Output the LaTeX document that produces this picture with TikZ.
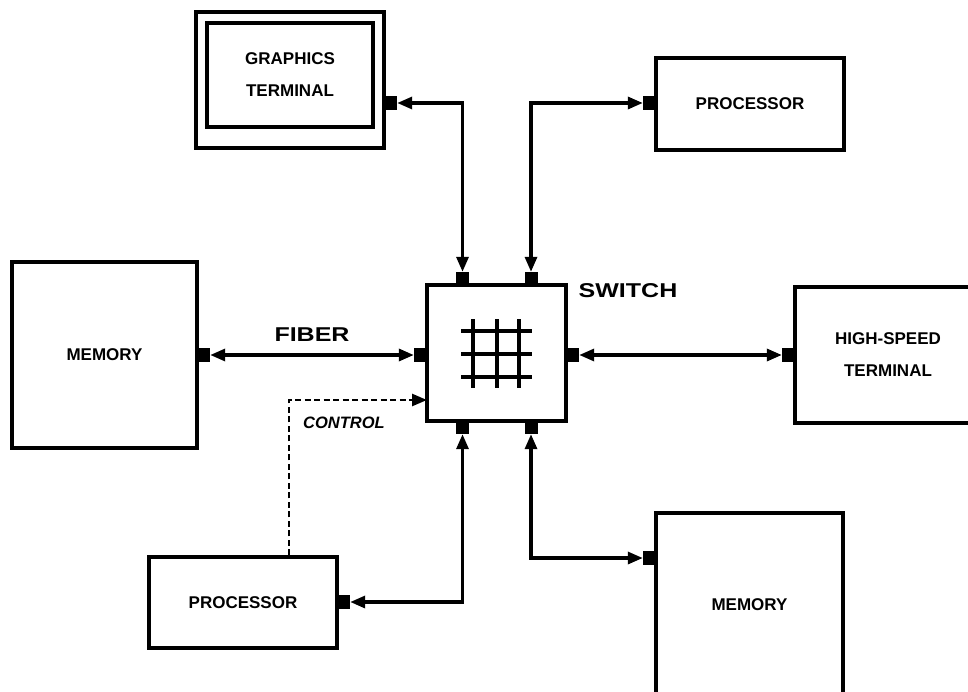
\documentclass[tikz,border=0pt]{standalone}
\usepackage{fontspec}
\setmainfont{Liberation Sans}
\newfontfamily\widesans[FakeStretch=1.25]{Liberation Sans}
\usetikzlibrary{arrows.meta}

\begin{document}
\begin{tikzpicture}[x=1pt, y=-1pt,
  unit/.style={draw, line width=3.2pt, inner sep=0pt, align=center,
    font=\fontsize{17}{32}\selectfont\bfseries},
  porth/.style={fill, inner sep=0pt, minimum width=13pt, minimum height=14pt},
  portv/.style={fill, inner sep=0pt, minimum width=13pt, minimum height=13pt},
  link/.style={line width=3.2pt,
    {Triangle[length=15pt,width=12pt]}-{Triangle[length=15pt,width=12pt]}},
  ctrl/.style={line width=2.6pt, dash pattern=on 6pt off 3.5pt,
    -{Triangle[length=15pt,width=12pt]}},
  tag/.style={font=\widesans\fontsize{20}{24}\selectfont\bfseries}]
\useasboundingbox (0,0) rectangle (968,692);
\clip (0,0) rectangle (968,692);
\node[unit, minimum width=188pt, minimum height=136pt] (gtframe) at (290,80) {};
\node[unit, minimum width=166pt, minimum height=104pt] (gterm) at (290,75) {GRAPHICS\\TERMINAL};
\node[unit, minimum width=188pt, minimum height=92pt] (proc1) at (750,104) {PROCESSOR};
\node[unit, minimum width=185pt, minimum height=186pt] (mem1) at (104.5,355) {MEMORY};
\node[unit, minimum width=139pt, minimum height=136pt] (sw) at (496.5,353) {};
\node[unit, minimum width=186pt, minimum height=136pt] (hst) at (888,355) {HIGH-SPEED\\TERMINAL};
\node[unit, minimum width=188pt, minimum height=91pt] (proc2) at (243,602.5) {PROCESSOR};
\node[unit, minimum width=187pt, minimum height=184pt] (mem2) at (749.5,605) {MEMORY};
\foreach \gx in {473,497,519}
  \draw[line width=3.2pt] (\gx,319) -- (\gx,388);
\foreach \gy in {331,354,377}
  \draw[line width=3.2pt] (461,\gy) -- (532,\gy);
\node[porth] (gtp) at (390.5,103) {};
\node[porth] (proc1p) at (649.5,103) {};
\node[porth] (mem1p) at (203.5,355) {};
\node[porth] (swp1) at (420.5,355) {};
\node[porth] (swp2) at (572.5,355) {};
\node[porth] (hstp) at (788.5,355) {};
\node[portv] (swt1) at (462.5,278.5) {};
\node[portv] (swt2) at (531,278.5) {};
\node[portv] (swb1) at (462.5,427.5) {};
\node[portv] (swb2) at (531,427.5) {};
\node[porth] (proc2p) at (343.5,602) {};
\node[porth] (mem2p) at (649.5,558) {};
\draw[link] (gtp) -| (swt1);
\draw[link] (proc1p) -| (swt2);
\draw[link] (mem1p) -- (swp1);
\draw[link] (swp2) -- (hstp);
\draw[link] (proc2p) -| (swb1);
\draw[link] (mem2p) -| (swb2);
\coordinate (ctrlin) at (427,400);
\draw[ctrl] ([xshift=46pt]proc2.north) |- (ctrlin);
\node[tag] (fiber) at (312,335) {FIBER};
\node[tag] (swlabel) at (628,291) {SWITCH};
\node[font=\fontsize{16.5}{20}\selectfont\bfseries\itshape] (ctrltext) at (344,423) {CONTROL};
\end{tikzpicture}
\end{document}
